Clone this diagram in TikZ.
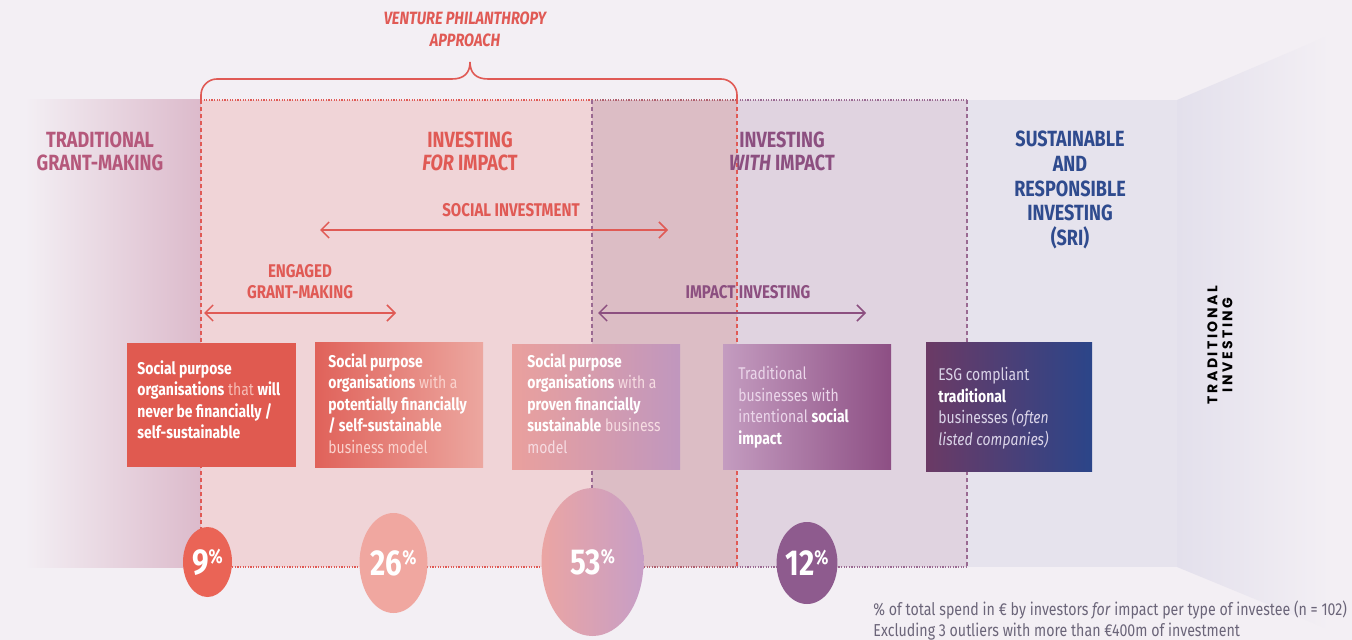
\documentclass[tikz,border=0pt]{standalone}
\usepackage{fontspec}
\setmainfont[FakeStretch=0.82]{Fira Sans}
\newfontfamily\tradfont[LetterSpace=18]{Poppins}
\usetikzlibrary{arrows.meta,shapes.geometric,calc}
\definecolor{bg}{HTML}{F3EFF4}
\definecolor{pinkreg}{HTML}{F0D4D7}
\definecolor{overreg}{HTML}{DCBDC5}
\definecolor{purpreg}{HTML}{E0D3E0}
\definecolor{srireg}{HTML}{E6E3ED}
\definecolor{wallreg}{HTML}{E3E0EC}
\definecolor{gmreg}{HTML}{DCBACB}
\definecolor{vpred}{HTML}{E05A55}
\definecolor{gmtext}{HTML}{B5587B}
\definecolor{purptext}{HTML}{8C4F80}
\definecolor{navy}{HTML}{2F4B8E}
\definecolor{dotpurp}{HTML}{9A6A92}
\definecolor{dotmix}{HTML}{B0606E}
\definecolor{boxa}{HTML}{E05A50}
\definecolor{boxbl}{HTML}{E0625A}
\definecolor{boxbr}{HTML}{ECA7A0}
\definecolor{boxcl}{HTML}{EAA09D}
\definecolor{boxcr}{HTML}{C097BE}
\definecolor{boxdl}{HTML}{C49CC0}
\definecolor{boxdr}{HTML}{8D4F84}
\definecolor{boxel}{HTML}{6B3A65}
\definecolor{boxer}{HTML}{2B4589}
\definecolor{ca}{HTML}{EA6456}
\definecolor{cb}{HTML}{F0A7A0}
\definecolor{ccl}{HTML}{EBA5A3}
\definecolor{ccr}{HTML}{C79EC6}
\definecolor{cd}{HTML}{8E5B8E}
\definecolor{foot}{HTML}{6B6579}
\definecolor{lta}{HTML}{F6BDB5}
\definecolor{ltb}{HTML}{FAD3CE}
\definecolor{ltc}{HTML}{F6DCE2}
\definecolor{ltd}{HTML}{EBD6EA}
\definecolor{lte}{HTML}{DAD4E8}
\begin{document}
\begin{tikzpicture}[x=0.5pt,y=-0.5pt,
  head/.style={font=\bfseries\fontsize{11}{11.5}\selectfont, align=center, inner sep=0pt},
  lbl/.style={font=\bfseries\fontsize{9.2}{10.5}\selectfont, align=center, inner sep=0pt},
  boxnode/.style={rectangle, inner sep=0pt, draw=none},
  btxt/.style={font=\fontsize{8.5}{10.8}\selectfont, align=left, anchor=north west, inner sep=0pt, text=white},
  pct/.style={ellipse, inner sep=0pt, text=white, font=\bfseries\fontsize{18}{18}\selectfont},
  arr/.style={line width=0.75pt, {Straight Barb[length=4pt,width=8pt]}-{Straight Barb[length=4pt,width=8pt]}},
  hdot/.style={line width=0.9pt, dash pattern=on 0.6pt off 0.7pt},
  vdash/.style={line width=0.6pt, dash pattern=on 2pt off 1.5pt},
]
\fill[bg] (0,0) rectangle (1352,640);
\useasboundingbox (0,0) rectangle (1352,640);
% regions
\shade[left color=bg, right color=gmreg] (25,100) rectangle (201,567);
\fill[pinkreg] (201,100) rectangle (592,567);
\fill[overreg] (592,100) rectangle (737,567);
\fill[purpreg] (737,100) rectangle (967,567);
\fill[srireg] (967,100) rectangle (1177,567);
\shade[left color=wallreg, right color=bg] (1177,100) -- (1330,35) -- (1330,630) -- (1177,567) -- cycle;
% dotted borders
\draw[hdot, vpred] (201,100) -- (592,100);
\draw[hdot, dotmix] (592,100) -- (737,100);
\draw[hdot, dotpurp] (737,100) -- (967,100);
\draw[hdot, vpred] (201,567) -- (592,567);
\draw[hdot, dotmix] (592,567) -- (737,567);
\draw[hdot, dotpurp] (737,567) -- (967,567);
\draw[vdash, vpred] (201,100) -- (201,567);
\draw[vdash, dotpurp] (592,100) -- (592,567);
\draw[vdash, vpred] (737,100) -- (737,567);
\draw[vdash, dotpurp] (967,100) -- (967,567);
% brace
\draw[vpred, line width=0.8pt, rounded corners=8pt] (201,100) -- (201,79) -- (452,79);
\draw[vpred, line width=0.8pt] (452,79) .. controls (464,79) and (470,73) .. (470,62) .. controls (470,73) and (476,79) .. (488,79);
\draw[vpred, line width=0.8pt, rounded corners=8pt] (488,79) -- (737,79) -- (737,100);
\node[lbl, vpred, font=\bfseries\itshape\fontsize{8.9}{11}\selectfont] (vpa) at (465,29) {VENTURE PHILANTHROPY\\APPROACH};
% headings
\node[head, gmtext] (tgm) at (100,151) {TRADITIONAL\\GRANT-MAKING};
\node[head, vpred] (ifi) at (470,151) {INVESTING\\\textit{FOR} IMPACT};
\node[head, purptext] (iwi) at (782,151) {INVESTING\\\textit{WITH} IMPACT};
\node[head, navy, font=\bfseries\fontsize{11}{12.4}\selectfont] (sri) at (1070,190) {SUSTAINABLE\\AND\\RESPONSIBLE\\INVESTING\\(SRI)};
% labels and arrows
\node[lbl, vpred] (sil) at (511,210) {SOCIAL INVESTMENT};
\coordinate (si-l) at (320,230);
\coordinate (si-r) at (668,230);
\draw[arr, vpred] (si-l) -- (si-r);
\node[lbl, vpred] (egm) at (300,282) {ENGAGED\\GRANT-MAKING};
\coordinate (eg-l) at (204,313);
\coordinate (eg-r) at (396,313);
\draw[arr, vpred] (eg-l) -- (eg-r);
\node[lbl, purptext] (iil) at (748,292) {IMPACT INVESTING};
\coordinate (ii-l) at (598,313);
\coordinate (ii-r) at (866,313);
\draw[arr, purptext] (ii-l) -- (ii-r);
% boxes
\node[boxnode, fill=boxa, minimum width=84.5pt, minimum height=62pt] (b1) at (211.5,405) {};
\node[boxnode, left color=boxbl, right color=boxbr, minimum width=84pt, minimum height=62pt] (b2) at (399,405) {};
\node[boxnode, left color=boxcl, right color=boxcr, minimum width=84pt, minimum height=62pt] (b3) at (596,407) {};
\node[boxnode, left color=boxdl, right color=boxdr, minimum width=84pt, minimum height=62pt] (b4) at (807,407) {};
\node[boxnode, left color=boxel, right color=boxer, minimum width=83pt, minimum height=64pt] (b5) at (1009,407) {};
\node[btxt] (t1) at (137,360) {\textbf{Social purpose}\\\textbf{organisations} \textcolor{lta}{that} \textbf{will}\\\textbf{never be financially /}\\\textbf{self-sustainable}};
\node[btxt] (t2) at (328,353) {\textbf{Social purpose}\\\textbf{organisations} \textcolor{ltb}{with a}\\\textbf{potentially financially}\\\textbf{/ self-sustainable}\\\textcolor{ltb}{business model}};
\node[btxt] (t3) at (527,353) {\textbf{Social purpose}\\\textbf{organisations} \textcolor{ltc}{with a}\\\textbf{proven financially}\\\textbf{sustainable} \textcolor{ltc}{business}\\\textcolor{ltc}{model}};
\node[btxt] (t4) at (738,366) {\textcolor{ltd}{Traditional}\\\textcolor{ltd}{businesses with}\\\textcolor{ltd}{intentional} \textbf{social}\\\textbf{impact}};
\node[btxt] (t5) at (938,367) {\textcolor{lte}{ESG compliant}\\\textbf{traditional}\\\textcolor{lte}{businesses \textit{(often}}\\\textcolor{lte}{\textit{listed companies)}}};
% circles
\node[pct, fill=ca, minimum width=24.5pt, minimum height=35pt] (p1) at (207.5,562) {9\raisebox{5.5pt}{\fontsize{10}{10}\selectfont\%}};
\node[pct, fill=cb, minimum width=34pt, minimum height=50pt] (p2) at (393.5,563) {26\raisebox{5.5pt}{\fontsize{10}{10}\selectfont\%}};
\node[pct, left color=ccl, right color=ccr, minimum width=51pt, minimum height=74pt] (p3) at (592.5,562) {53\raisebox{5.5pt}{\fontsize{10}{10}\selectfont\%}};
\node[pct, fill=cd, minimum width=28pt, minimum height=41pt] (p4) at (807,563) {12\raisebox{5.5pt}{\fontsize{10}{10}\selectfont\%}};
% traditional investing
\node[rotate=90, align=center, inner sep=0pt, font=\tradfont\bfseries\fontsize{7}{7.5}\selectfont] (ti) at (1220,345) {TRADITIONAL\\INVESTING};
% footnote
\node[anchor=north west, align=left, inner sep=0pt, text=foot, font=\fontsize{8.65}{10.5}\selectfont] (fn) at (873,600) {\% of total spend in € by investors \textit{for} impact per type of investee (n = 102)\\Excluding 3 outliers with more than €400m of investment};
\end{tikzpicture}
\end{document}
